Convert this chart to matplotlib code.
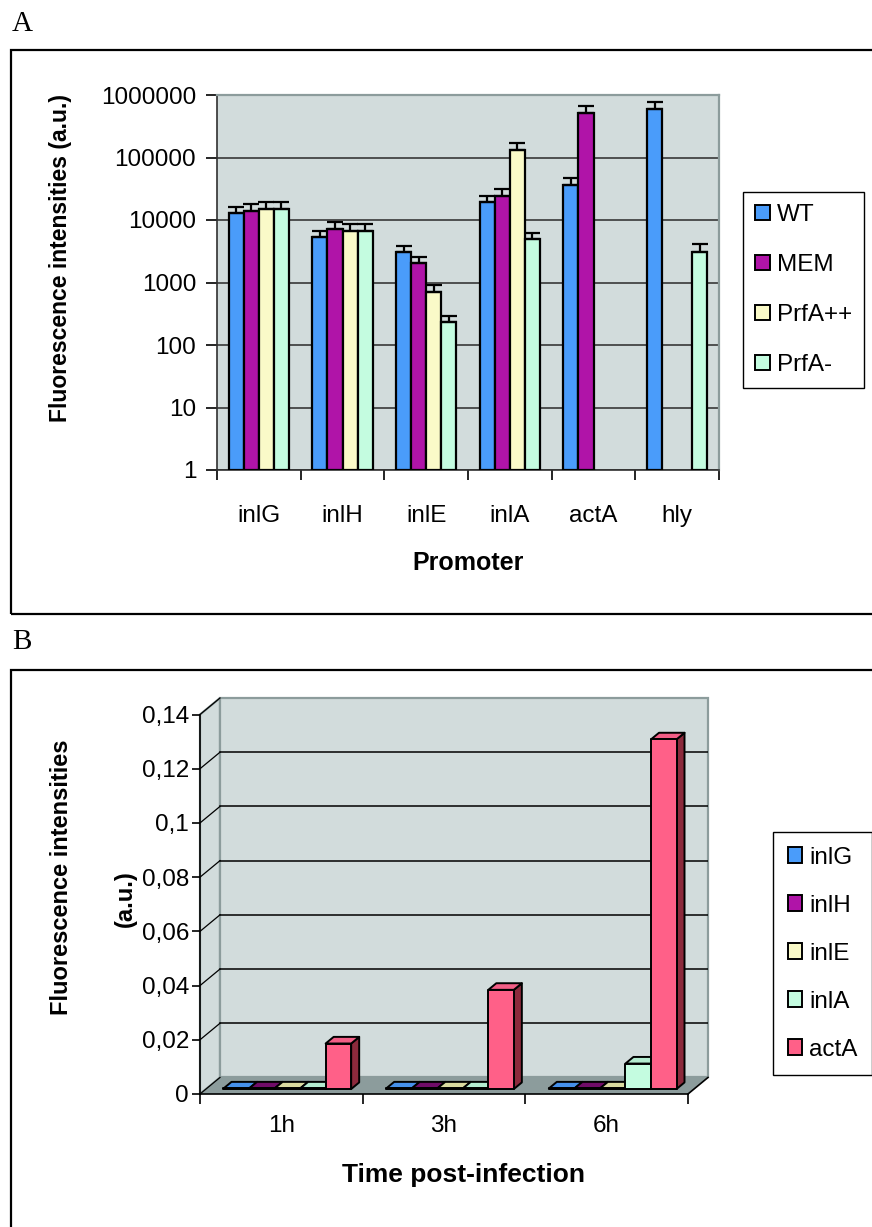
import numpy as np
import matplotlib.pyplot as plt
from matplotlib.patches import Rectangle, Polygon

plt.rcParams['font.family'] = ['Liberation Sans', 'DejaVu Sans']

# ---------------- data ----------------
# panel A : promoter activity per strain (log scale)
promoters = ['inlG', 'inlH', 'inlE', 'inlA', 'actA', 'hly']
strains = ['WT', 'MEM', 'PrfA++', 'PrfA-']
wt_vals = [12800, 5350, 3040, 19200, 36300, 604000]
mem_vals = [13900, 7260, 2030, 24500, 521000, np.nan]
prfa_pp_vals = [15000, 6670, 713, 133000, np.nan, np.nan]
prfa_m_vals = [15000, 6670, 231, 4910, np.nan, 3040]
wt_err = [3500, 1400, 840, 5300, 10100, 169000]
mem_err = [3900, 2030, 560, 6800, 146000, np.nan]
prfa_pp_err = [4100, 1850, 199, 37600, np.nan, np.nan]
prfa_m_err = [4100, 1850, 63, 1360, np.nan, 1130]

# panel B : intracellular expression over time
times = ['1h', '3h', '6h']
genes = ['inlG', 'inlH', 'inlE', 'inlA', 'actA']
inlG_t = [0.0002, 0.0002, 0.0002]
inlH_t = [0.0002, 0.0002, 0.0002]
inlE_t = [0.0002, 0.0002, 0.0002]
inlA_t = [0.0002, 0.0002, 0.0094]
actA_t = [0.0168, 0.0366, 0.129]

W, H = 872, 1227
fig = plt.figure(figsize=(W / 100, H / 100), dpi=100)


def fbox(x0, y0, x1, y1):
    # pixel box (top-left origin) -> figure fraction rect
    return [x0 / W, 1 - y1 / H, (x1 - x0) / W, (y1 - y0) / H]


def ftext(px, py, s, **kw):
    fig.text(px / W, 1 - py / H, s, ha='center', va='center', **kw)


wall = '#d2dcdc'
cols = ['#4a9cfa', '#b014a8', '#fafac8', '#c4fce0', '#ff6088']
tops = ['#4690ea', '#700c68', '#dadaa0', '#b4ecd0', '#f25e86']
sides = ['#2a5a9a', '#5a0a54', '#a0a070', '#80b0a0', '#8c2a3c']
fs = 17.5

# outer frames and panel letters
for y0, y1 in [(50, 614), (670, 1240)]:
    fig.patches.append(Rectangle((11 / W, 1 - y1 / H), 1.2, (y1 - y0) / H,
                                 transform=fig.transFigure, fill=False,
                                 lw=1.6, ec='black'))
fig.text(12 / W, 1 - 24 / H, 'A', family='Liberation Serif', fontsize=21,
         va='center', ha='left')
fig.text(12 / W, 1 - 642 / H, 'B', family='Liberation Serif', fontsize=21,
         va='center', ha='left')

# ================= panel A =================
ax = fig.add_axes(fbox(217, 95, 719, 470))
ax.set_facecolor(wall)
ax.set_yscale('log')
ax.set_ylim(1, 1e6)
ax.set_xlim(0, len(promoters))

bw = 0.18
x = np.arange(len(promoters))
series = [wt_vals, mem_vals, prfa_pp_vals, prfa_m_vals]
errs = [wt_err, mem_err, prfa_pp_err, prfa_m_err]
for j, (vals, err) in enumerate(zip(series, errs)):
    pos = x + 0.5 + (j - 1.5) * bw
    vals = np.array(vals, float)
    err = np.array(err, float)
    ok = ~np.isnan(vals)
    ax.bar(pos[ok], vals[ok] - 1, bottom=1, width=bw, color=cols[j],
           edgecolor='black', lw=1.6, zorder=3, label=strains[j])
    ax.errorbar(pos[ok], vals[ok], yerr=[np.zeros(ok.sum()), err[ok]],
                fmt='none', ecolor='black', elinewidth=1.6, capsize=6,
                capthick=1.6, zorder=4)

ax.set_yticks([1, 10, 100, 1000, 10000, 100000, 1000000])
ax.set_yticklabels(['1', '10', '100', '1000', '10000', '100000', '1000000'])
ax.yaxis.set_minor_locator(plt.NullLocator())
ax.grid(axis='y', color='#2a2a2a', lw=1.1, zorder=1)
ax.set_xticks(np.arange(len(promoters) + 1))
ax.set_xticklabels([])
ax.set_xticks(x + 0.5, minor=True)
ax.set_xticklabels(promoters, minor=True)
ax.tick_params(axis='x', which='major', direction='out', length=7, width=1.2)
ax.tick_params(axis='x', which='minor', length=0, pad=25, labelsize=fs)
ax.tick_params(axis='y', direction='out', length=8, width=1.2, pad=7,
               labelsize=fs)
for s in ['top', 'right']:
    ax.spines[s].set_color('#8c9c9c')
    ax.spines[s].set_linewidth(1.6)
for s in ['left', 'bottom']:
    ax.spines[s].set_color('#303030')
    ax.spines[s].set_linewidth(1.2)
ftext(61, 258, 'Fluorescence intensities (a.u.)', fontsize=16.5,
      fontweight='bold', rotation=90)
ftext(468, 563, 'Promoter', fontsize=18, fontweight='bold')

handles_a = [Rectangle((0, 0), 1, 1, fc=cols[j], ec='black', lw=1.4)
             for j in range(4)]
fig.legend(handles_a, strains, loc='upper left',
           bbox_to_anchor=(743 / W, 1 - 192 / H), fontsize=fs,
           frameon=True, fancybox=False, edgecolor='black', framealpha=1,
           handlelength=0.6, handleheight=0.6, handletextpad=0.3,
           labelspacing=1.15, borderpad=0.5, borderaxespad=0)

# ================= panel B (pseudo 3-D columns) =================
dx, dy = 0.123, 0.0061      # depth offset of the back wall
ymax = 0.14
bx = fig.add_axes(fbox(200, 698, 708, 1094))
bx.set_xlim(0, len(times) + dx)
bx.set_ylim(0, ymax + dy)
bx.patch.set_visible(False)

# side wall, back wall and floor
bx.add_patch(Polygon([(0, 0), (dx, dy), (dx, ymax + dy), (0, ymax)],
                     closed=True, fc=wall, ec='#8c9c9c', lw=1.6, zorder=0,
                     clip_on=False))
bx.add_patch(Rectangle((dx, dy), len(times), ymax, fc=wall, ec='#8c9c9c',
                       lw=1.6, zorder=0, clip_on=False))
bx.add_patch(Polygon([(0, 0), (len(times), 0), (len(times) + dx, dy),
                      (dx, dy)], closed=True, fc='#8c9c9c', ec='none',
                     zorder=1, clip_on=False))
bx.plot([len(times), len(times) + dx], [0, dy], color='black', lw=1.2,
        zorder=2, clip_on=False)
yt = np.arange(0, 0.141, 0.02)
for v in yt[1:-1]:
    bx.plot([dx, len(times) + dx], [v + dy, v + dy], color='black', lw=1.1,
            zorder=1)
for v in yt:
    bx.plot([0, dx], [v, v + dy], color='black', lw=0.9, zorder=1,
            clip_on=False)

bw = 0.157
gap = (1 - bw * len(genes)) / 2
bfx, bfy = 0.3 * dx, 0.3 * dy     # bars stand in the middle of the floor
ddx, ddy = 0.4 * dx, 0.4 * dy     # bar depth
series_b = [inlG_t, inlH_t, inlE_t, inlA_t, actA_t]
for i in range(len(times)):
    for j, vals in enumerate(series_b):
        v = vals[i]
        x0 = i + gap + j * bw + bfx
        y0 = bfy
        bx.add_patch(Polygon([(x0 + bw, y0), (x0 + bw + ddx, y0 + ddy),
                              (x0 + bw + ddx, y0 + v + ddy),
                              (x0 + bw, y0 + v)], closed=True,
                             fc=sides[j], ec='black', lw=1.4, zorder=3,
                             joinstyle='round'))
        bx.add_patch(Polygon([(x0, y0 + v), (x0 + bw, y0 + v),
                              (x0 + bw + ddx, y0 + v + ddy),
                              (x0 + ddx, y0 + v + ddy)], closed=True,
                             fc=tops[j], ec='black', lw=1.4, zorder=3,
                             joinstyle='round'))
        bx.add_patch(Rectangle((x0, y0), bw, v, fc=cols[j], ec='black',
                               lw=1.4, zorder=4, joinstyle='round'))

for s in ['top', 'right']:
    bx.spines[s].set_visible(False)
bx.spines['left'].set_bounds(0, ymax)
bx.spines['bottom'].set_bounds(0, len(times))
bx.spines['left'].set_linewidth(1.2)
bx.spines['bottom'].set_linewidth(1.2)
bx.set_yticks(yt)
bx.set_yticklabels(['0', '0,02', '0,04', '0,06', '0,08', '0,1', '0,12',
                    '0,14'])
bx.set_xticks(np.arange(len(times) + 1))
bx.set_xticklabels([])
bx.set_xticks(np.arange(len(times)) + 0.5, minor=True)
bx.set_xticklabels(times, minor=True)
bx.tick_params(axis='x', which='major', direction='out', length=7, width=1.2)
bx.tick_params(axis='x', which='minor', length=0, pad=15, labelsize=fs)
bx.tick_params(axis='y', direction='out', length=6, width=1.2, pad=2,
               labelsize=fs)
ftext(62, 877, 'Fluorescence intensities', fontsize=17, fontweight='bold',
      rotation=90)
ftext(125, 899, '(a.u.)', fontsize=17, fontweight='bold', rotation=90)
ftext(463, 1175, 'Time post-infection', fontsize=19, fontweight='bold')

handles_b = [Rectangle((0, 0), 1, 1, fc=cols[j], ec='black', lw=1.4)
             for j in range(5)]
fig.legend(handles_b, genes, loc='upper left',
           bbox_to_anchor=(773 / W, 1 - 832 / H), fontsize=fs,
           frameon=True, fancybox=False, edgecolor='black', framealpha=1,
           handlelength=0.6, handleheight=0.6, handletextpad=0.3,
           labelspacing=1.07, borderpad=0.6, borderaxespad=0)

fig.savefig('out.png', dpi=100)
